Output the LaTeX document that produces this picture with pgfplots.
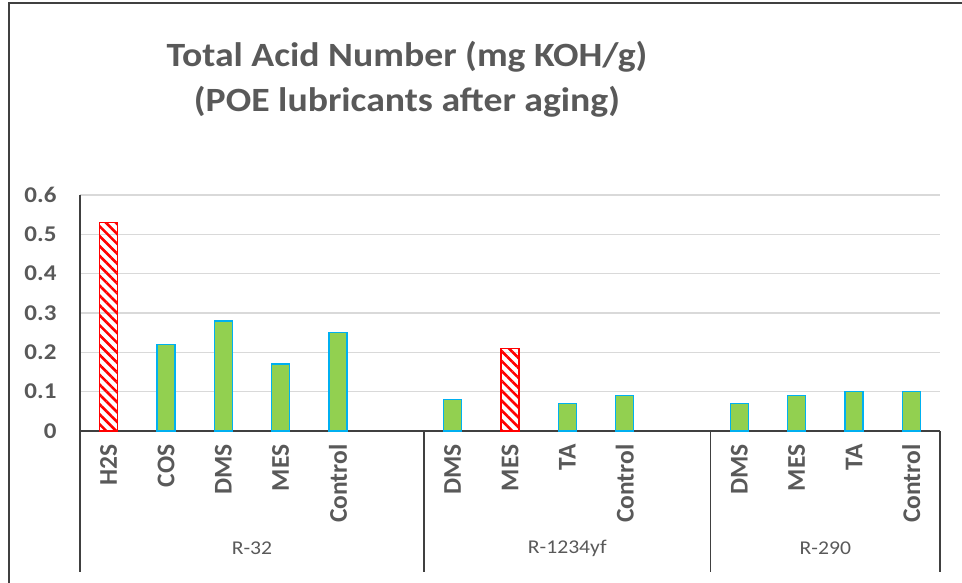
\documentclass[border=0pt]{standalone}
\usepackage{pgfplots}
\pgfplotsset{compat=1.18}
\usepackage{fontspec}
\setmainfont{Carlito}[FakeStretch=1.11]
\newfontfamily\plainfont{Carlito}
\usetikzlibrary{patterns.meta}
\definecolor{txt}{HTML}{595959}
\definecolor{barg}{HTML}{92D050}
\definecolor{bare}{HTML}{00B0F0}
\definecolor{gridc}{HTML}{D9D9D9}
\definecolor{axc}{HTML}{404040}
\begin{document}
\begin{tikzpicture}[x=1pt,y=1pt]
\path[use as bounding box] (-80,-151) rectangle (882,431);
\draw[axc, line width=1.5pt] (-71,-170) -- (-71,428) -- (900,428);
\node[align=center, text=txt, font=\bfseries\fontsize{34}{45}\selectfont] at (327,352)
  {Total Acid Number (mg KOH/g)\\(POE lubricants after aging)};
\begin{axis}[
  at={(0,0)}, anchor=south west,
  scale only axis, width=860pt, height=236pt,
  xmin=-0.5, xmax=14.5, ymin=0, ymax=0.6,
  clip=false,
  axis x line*=bottom, axis y line*=left,
  axis line style={axc, line width=1.2pt, -},
  major tick length=0pt,
  ytick={0,0.1,0.2,0.3,0.4,0.5,0.6},
  yticklabels={0,0.1,0.2,0.3,0.4,0.5,0.6},
  ymajorgrids, grid style={gridc, line width=1.5pt},
  yticklabel style={font=\bfseries\fontsize{22.5}{24}\selectfont, text=txt, xshift=-20pt},
  xtick={0,1,2,3,4,6,7,8,9,11,12,13,14},
  xticklabels={H2S,COS,DMS,MES,Control,DMS,MES,TA,Control,DMS,MES,TA,Control},
  xticklabel style={rotate=90, anchor=east, font=\plainfont\bfseries\fontsize{25.5}{27}\selectfont, text=txt, xshift=-10pt},
  ybar, bar width=18pt,
]
\addplot[ybar, bar shift=0pt, fill=barg, draw=bare, line width=1.5pt]
  coordinates {(1,0.22)(2,0.28)(3,0.17)(4,0.25)(6,0.08)(8,0.07)(9,0.09)(11,0.07)(12,0.09)(13,0.10)(14,0.10)};
\addplot[ybar, bar shift=0pt, draw=red, line width=1.5pt,
  pattern={Lines[angle=-45,distance=7pt,line width=2.6pt]}, pattern color=red]
  coordinates {(0,0.53)(7,0.21)};
\foreach \s in {-0.5,5.5,10.5,14.5}{
  \edef\tmp{\noexpand\draw[axc, line width=1.2pt] (axis cs:\s,0) -- (axis cs:\s,-0.3585);}
  \tmp
}
\node[text=txt, font=\fontsize{19.5}{22}\selectfont] at (axis cs:2.5,-0.2975) {R-32};
\node[text=txt, font=\fontsize{19.5}{22}\selectfont] at (axis cs:8,-0.2975) {R-1234yf};
\node[text=txt, font=\fontsize{19.5}{22}\selectfont] at (axis cs:12.5,-0.2975) {R-290};
\end{axis}
\end{tikzpicture}
\end{document}
